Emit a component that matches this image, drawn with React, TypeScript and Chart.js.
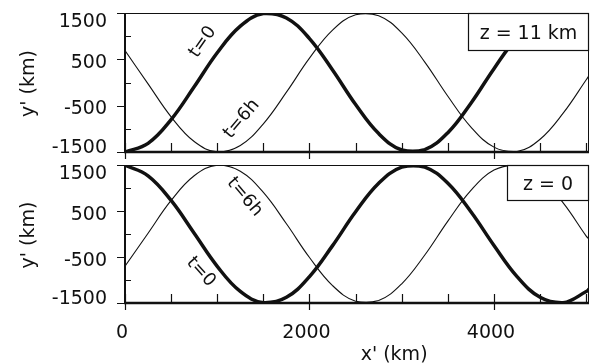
import React, { useEffect, useRef } from "react";
import { Chart, registerables } from "chart.js";

Chart.register(...registerables);

// x' positions (km)
const xKm = [0, 250, 500, 750, 1000, 1250, 1500, 1750, 2000, 2250, 2500, 2750, 3000, 3250, 3500, 3750, 4000, 4250, 4500, 4750, 5000, 5030];

// z = 11 km panel
const topT0 = [-1500, -1314, -801, -92, 643, 1216, 1489, 1392, 948, 270, -476, -1103, -1457, -1449, -1083, -446, 299, 972, 1402, 1485, 1200, 1143];
const topT6 = [688, -29, -741, -1274, -1497, -1359, -891, -209, 525, 1132, 1464, 1442, 1072, 441, -297, -962, -1395, -1489, -1224, -662, 60, 150];

// z = 0 panel
const botT0 = [1496, 1265, 729, 16, -702, -1249, -1494, -1377, -927, -253, 483, 1103, 1453, 1454, 1102, 483, -250, -926, -1377, -1494, -1251, -1200];
const botT6 = [-702, 16, 729, 1265, 1496, 1365, 903, 222, -511, -1122, -1461, -1446, -1082, -456, 281, 949, 1389, 1491, 1233, 676, -45, -110];

const xTicks = [0, 500, 1000, 1500, 2000, 2500, 3000, 3500, 4000, 4500, 5000];
const xLabeled = [0, 2000, 4000];
const yTicks = [-1500, -1000, -500, 0, 500, 1000, 1500];
const yLabeled = [-1500, -500, 500, 1500];

const X_MIN = 0;
const X_MAX = 5030;
const Y_MIN = -1500;
const Y_MAX = 1500;

const FONT = '"DejaVu Sans", Arial, sans-serif';
const INK = "#111";

type Ann = { text: string; x: number; y: number; rot: number };

interface PanelOpts {
  t0: number[];
  t6: number[];
  boxText: string;
  boxW: number;
  boxH: number;
  anns: Ann[];
  showX: boolean;
  padding: { left: number; right: number; top: number; bottom: number };
}

function makeConfig(o: PanelOpts): any {
  const plugin = {
    id: "panelDecor",
    afterDatasetsDraw(chart: any) {
      const ctx: CanvasRenderingContext2D = chart.ctx;
      const { left, right, top, bottom } = chart.chartArea;
      const xs = chart.scales.x;
      const ys = chart.scales.y;
      ctx.save();

      // curve annotations
      ctx.fillStyle = INK;
      ctx.font = `18px ${FONT}`;
      ctx.textAlign = "center";
      ctx.textBaseline = "middle";
      for (const a of o.anns) {
        ctx.save();
        ctx.translate(xs.getPixelForValue(a.x), ys.getPixelForValue(a.y));
        ctx.rotate((a.rot * Math.PI) / 180);
        ctx.fillText(a.text, 0, 0);
        ctx.restore();
      }

      // legend box
      const bx = right - o.boxW;
      const by = top;
      ctx.fillStyle = "#fff";
      ctx.fillRect(bx, by, o.boxW, o.boxH);
      ctx.strokeStyle = INK;
      ctx.lineWidth = 1.2;
      ctx.strokeRect(bx + 0.5, by + 0.5, o.boxW - 1, o.boxH);
      ctx.fillStyle = INK;
      ctx.font = `19px ${FONT}`;
      ctx.textBaseline = "alphabetic";
      ctx.fillText(o.boxText, bx + o.boxW / 2, by + o.boxH / 2 + 7);

      // frame
      ctx.strokeStyle = INK;
      ctx.lineWidth = 1;
      ctx.beginPath();
      ctx.moveTo(left, top + 0.5);
      ctx.lineTo(right, top + 0.5);
      ctx.moveTo(right - 0.5, top);
      ctx.lineTo(right - 0.5, bottom);
      ctx.stroke();
      ctx.lineWidth = 2;
      ctx.beginPath();
      ctx.moveTo(left, top);
      ctx.lineTo(left, bottom + 1);
      ctx.stroke();
      ctx.lineWidth = 2.5;
      ctx.beginPath();
      ctx.moveTo(left - 1, bottom);
      ctx.lineTo(right, bottom);
      ctx.stroke();

      // x ticks
      ctx.lineWidth = 1.2;
      ctx.beginPath();
      for (const v of xTicks) {
        const px = Math.round(xs.getPixelForValue(v)) + 0.5;
        const major = xLabeled.includes(v);
        ctx.moveTo(px, bottom - 9);
        ctx.lineTo(px, major ? bottom + 7 : bottom);
      }
      // y ticks
      for (const v of yTicks) {
        const py = Math.round(ys.getPixelForValue(v)) + 0.5;
        const major = yLabeled.includes(v);
        if (major) {
          ctx.moveTo(left - 8, py);
          ctx.lineTo(left, py);
        } else {
          ctx.moveTo(left, py);
          ctx.lineTo(left + 6, py);
        }
      }
      ctx.stroke();

      // y tick labels
      ctx.font = `19px ${FONT}`;
      ctx.textAlign = "right";
      ctx.textBaseline = "alphabetic";
      for (const v of yLabeled) {
        const py = ys.getPixelForValue(v);
        const c = Math.min(Math.max(py + 1.5, top + 7), bottom - 6.5);
        ctx.fillText(String(v), left - 18, c + 7);
      }

      // y title
      ctx.save();
      ctx.translate(29, (top + bottom) / 2 + 1);
      ctx.rotate(-Math.PI / 2);
      ctx.textAlign = "center";
      ctx.textBaseline = "middle";
      ctx.fillText("y' (km)", 0, 0);
      ctx.restore();

      if (o.showX) {
        ctx.textAlign = "center";
        ctx.textBaseline = "alphabetic";
        for (const v of xLabeled) {
          const px = xs.getPixelForValue(v);
          ctx.fillText(String(v), px - 3, bottom + 35);
        }
        ctx.fillText("x' (km)", left + (right - left) * 0.58, bottom + 57);
      }
      ctx.restore();
    },
  };

  const mk = (arr: number[]) => xKm.map((x, i) => ({ x, y: arr[i] }));

  return {
    type: "line",
    data: {
      datasets: [
        {
          label: "t=0",
          data: mk(o.t0),
          borderColor: INK,
          borderWidth: 3.5,
          pointRadius: 0,
          tension: 0.4,
          fill: false,
        },
        {
          label: "t=6h",
          data: mk(o.t6),
          borderColor: INK,
          borderWidth: 1.1,
          pointRadius: 0,
          tension: 0.4,
          fill: false,
        },
      ],
    },
    options: {
      responsive: false,
      animation: false,
      devicePixelRatio: 1,
      layout: { padding: o.padding },
      plugins: { legend: { display: false }, tooltip: { enabled: false }, title: { display: false } },
      events: [],
      scales: {
        x: { type: "linear", min: X_MIN, max: X_MAX, display: false },
        y: { type: "linear", min: Y_MIN, max: Y_MAX, display: false },
      },
    },
    plugins: [plugin],
  };
}

function Panel(props: { opts: PanelOpts; top: number; height: number }) {
  const ref = useRef<HTMLCanvasElement | null>(null);
  useEffect(() => {
    if (!ref.current) return;
    const chart = new Chart(ref.current, makeConfig(props.opts));
    return () => chart.destroy();
  }, []);
  return (
    <canvas
      ref={ref}
      width={592}
      height={props.height}
      style={{ position: "absolute", left: 0, top: props.top, width: 592, height: props.height }}
    />
  );
}

const topOpts: PanelOpts = {
  t0: topT0,
  t6: topT6,
  boxText: "z = 11 km",
  boxW: 121,
  boxH: 37,
  anns: [
    { text: "t=0", x: 843, y: 874, rot: -55 },
    { text: "t=6h", x: 1265, y: -788, rot: -50 },
  ],
  showX: false,
  padding: { left: 125, right: 3, top: 13, bottom: 8 },
};

const botOpts: PanelOpts = {
  t0: botT0,
  t6: botT6,
  boxText: "z = 0",
  boxW: 82,
  boxH: 35,
  anns: [
    { text: "t=6h", x: 1297, y: 804, rot: 50 },
    { text: "t=0", x: 822, y: -826, rot: 48 },
  ],
  showX: true,
  padding: { left: 125, right: 3, top: 5, bottom: 61 },
};

export default function App() {
  return (
    <div style={{ position: "fixed", left: 0, top: 0, width: 592, height: 364, background: "#fff", overflow: "hidden" }}>
      <Panel opts={topOpts} top={0} height={160} />
      <Panel opts={botOpts} top={160} height={204} />
    </div>
  );
}
